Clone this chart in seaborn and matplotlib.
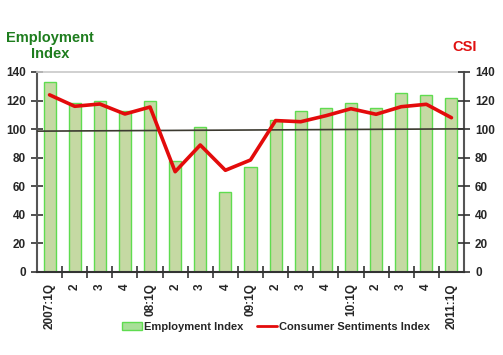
import matplotlib
matplotlib.use("Agg")
import matplotlib.pyplot as plt
import seaborn as sns
import pandas as pd
import numpy as np
from matplotlib.patches import Patch
from matplotlib.lines import Line2D

periods = ['2007Q1', '2007Q2', '2007Q3', '2007Q4', '2008Q1', '2008Q2', '2008Q3', '2008Q4',
           '2009Q1', '2009Q2', '2009Q3', '2009Q4', '2010Q1', '2010Q2', '2010Q3', '2010Q4', '2011Q1']
tick_labels = ['2007:1Q', '2', '3', '4', '08:1Q', '2', '3', '4', '09:1Q', '2', '3', '4',
               '10:1Q', '2', '3', '4', '2011:1Q']
employment = [133, 118, 120, 113, 119.5, 78, 101.3, 56, 73.3, 106.2, 113, 114.5, 118.5, 114.5, 125, 124, 122]
csi = [124, 116, 117.6, 110.6, 115.5, 70.2, 88.9, 71.2, 78.4, 106, 105.2, 109.4, 114.3, 110.4, 115.7, 117.4, 108]
trend_ends = [98.6, 100.2]
yticks = [0, 20, 40, 60, 80, 100, 120, 140]

sns.set_theme(style="white")
plt.rcParams['font.family'] = ['Liberation Sans', 'DejaVu Sans']
plt.rcParams['font.weight'] = 'bold'

df = pd.DataFrame({'period': periods, 'employment': employment, 'csi': csi})
df['pos'] = np.arange(len(df))

fig = plt.figure(figsize=(5.03, 3.55), dpi=100)
ax = fig.add_axes([37/503, 83/355, (464-37)/503, 200/355])

bar_fill = '#c5d9a3'
bar_edge = '#5fdc50'
sns.barplot(data=df, x='period', y='employment', ax=ax, color=bar_fill,
            edgecolor=bar_edge, linewidth=1.0, width=0.48, saturation=1)

ax.set_ylim(0, 140)
ax.set_xlim(-0.5, len(df) - 0.5)
ax.set_yticks(yticks)
ax.set_yticklabels([str(v) for v in yticks], fontsize=8.5, fontweight='bold')
ax.set_xticks(df['pos'])
ax.set_xticklabels(tick_labels, rotation=90, fontsize=8.5, fontweight='bold')
ax.tick_params(axis='x', which='major', length=0, pad=8)
ax.set_xticks(np.arange(len(df) - 1) + 0.5, minor=True)
ax.tick_params(axis='x', which='minor', length=8, width=1.2, direction='inout', color='#333333', bottom=True)
ax.tick_params(axis='y', which='major', length=8, width=1.2, direction='inout', color='#333333', left=True, pad=4)
ax.set_xlabel('')
ax.set_ylabel('')

# trend line
ax.plot([-0.5, len(df) - 0.5], trend_ends, color='#3c3a30', linewidth=1.2, zorder=3)

for s in ['left', 'right']:
    ax.spines[s].set_color('#555555')
    ax.spines[s].set_linewidth(1.5)
ax.spines['bottom'].set_color('#333333')
ax.spines['bottom'].set_linewidth(1.5)
ax.spines['top'].set_color('#c8c8c8')
ax.spines['top'].set_linewidth(1.2)

ax2 = ax.twinx()
sns.lineplot(data=df, x='pos', y='csi', ax=ax2, color='#e30b0b', linewidth=2.6, zorder=5)
ax2.set_ylim(0, 140)
ax2.set_xlim(-0.5, len(df) - 0.5)
ax2.set_yticks(yticks)
ax2.set_yticklabels([str(v) for v in yticks], fontsize=8.5, fontweight='bold')
ax2.tick_params(axis='y', which='major', length=8, width=1.2, direction='inout', color='#333333', right=True, pad=4)
ax2.set_ylabel('')
ax2.set_xlabel('')
for s in ax2.spines.values():
    s.set_visible(False)
ax2.grid(False)
ax.grid(False)

fig.text(50/503, 1 - 46/355, 'Employment\nIndex', ha='center', va='center', fontsize=10.5,
         fontweight='bold', color='#1e7d1e', linespacing=1.1)
fig.text(465/503, 1 - 47/355, 'CSI', ha='center', va='center', fontsize=10.5,
         fontweight='bold', color='#e01010')

handles = [Patch(facecolor='#a8df98', edgecolor=bar_edge, linewidth=1.0),
           Line2D([0], [0], color='#e30b0b', linewidth=2)]
fig.legend(handles, ['Employment Index', 'Consumer Sentiments Index'], loc='center',
           bbox_to_anchor=(276/503, 28/355), ncol=2, frameon=False,
           handlelength=1.8, handletextpad=0.2, columnspacing=1.2, prop={'weight': 'bold', 'size': 8})

fig.savefig('out.png', dpi=100)
